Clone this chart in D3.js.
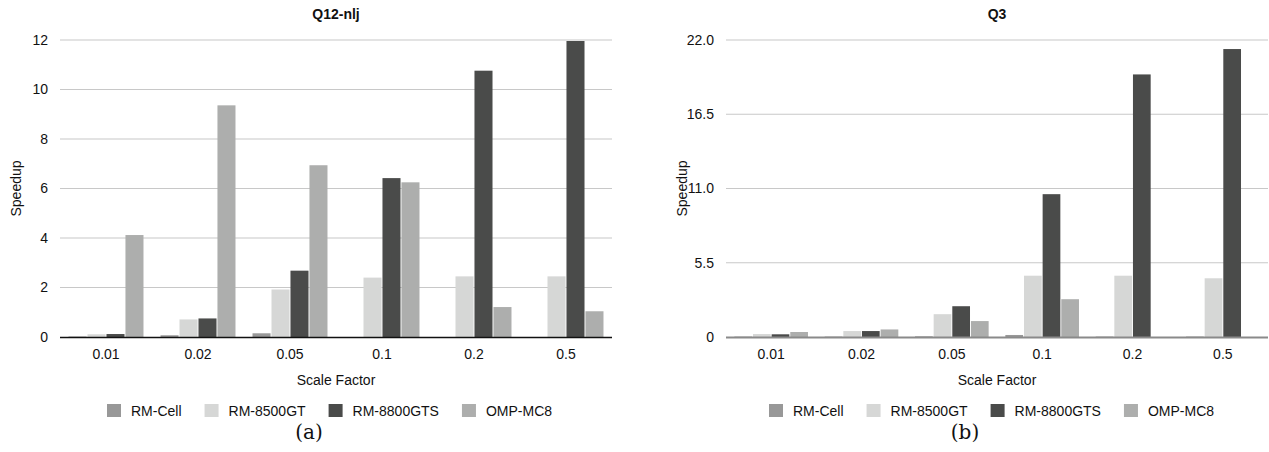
<!DOCTYPE html>
<html>
<head>
<meta charset="utf-8">
<script src="https://cdn.jsdelivr.net/npm/d3@7"></script>
<style>
  html, body { margin: 0; padding: 0; background: #fff; }
  svg text { font-family: "Liberation Sans", Arial, Helvetica, sans-serif; fill: #111; }
</style>
</head>
<body>
<svg id="chart" width="1269" height="452"></svg>
<script>
// Scale factors on the x axis (shared by both panels)
const scaleFactors = ["0.01", "0.02", "0.05", "0.1", "0.2", "0.5"];
const seriesNames = ["RM-Cell", "RM-8500GT", "RM-8800GTS", "OMP-MC8"];
const seriesColors = ["#989898", "#d6d7d6", "#4a4b4a", "#adaead"];

// Q12-nlj speedups per series
const q12Cell   = [0.02, 0.07, 0.15, 0, 0, 0];
const q12G8500  = [0.11, 0.71, 1.92, 2.40, 2.45, 2.45];
const q12G8800  = [0.12, 0.75, 2.68, 6.42, 10.76, 11.96];
const q12Omp    = [4.12, 9.36, 6.94, 6.25, 1.21, 1.04];
const q12Ticks  = [0, 2, 4, 6, 8, 10, 12];
const q12TickLabels = ["0", "2", "4", "6", "8", "10", "12"];

// Q3 speedups per series
const q3Cell    = [0.03, 0.03, 0.05, 0.15, 0.03, 0.03];
const q3G8500   = [0.22, 0.44, 1.69, 4.54, 4.54, 4.35];
const q3G8800   = [0.20, 0.44, 2.28, 10.58, 19.45, 21.33];
const q3Omp     = [0.37, 0.56, 1.18, 2.80, 0, 0];
const q3Ticks   = [0, 5.5, 11, 16.5, 22];
const q3TickLabels = ["0", "5.5", "11.0", "16.5", "22.0"];

const svg = d3.select("#chart");

function drawPanel(opts) {
  const { title, caption, series, ticks, tickLabels, x0, x1, legendX, captionX, baseStroke, baseWidth } = opts;
  const yTop = 40, yBottom = 337;
  const g = svg.append("g");

  const x = d3.scaleBand().domain(scaleFactors).range([x0, x1])
    .paddingInner(0.185).paddingOuter(0.0925);
  const xs = d3.scaleBand().domain(seriesNames).range([0, x.bandwidth()]).paddingInner(0.05);
  const y = d3.scaleLinear().domain([0, ticks[ticks.length - 1]]).range([yBottom, yTop]);

  // horizontal gridlines
  g.append("g").selectAll("line").data(ticks.slice(1)).join("line")
    .attr("x1", x0).attr("x2", x1)
    .attr("y1", d => y(d)).attr("y2", d => y(d))
    .attr("stroke", "#c8c8c8").attr("stroke-width", 1.2);

  // y axis tick labels
  const yAxis = d3.axisLeft(y).tickValues(ticks)
    .tickFormat((d, i) => tickLabels[i]).tickSize(0).tickPadding(12);
  const ya = g.append("g").attr("transform", `translate(${x0},0)`).call(yAxis);
  ya.select(".domain").remove();
  ya.selectAll("text").attr("font-size", 14).attr("font-family", null).attr("fill", "#111");

  // bars
  const rows = scaleFactors.map((f, i) => ({ f, vals: series.map(s => s[i]) }));
  g.append("g").selectAll("g").data(rows).join("g")
    .attr("transform", d => `translate(${x(d.f)},0)`)
    .selectAll("rect").data(d => d.vals.map((v, k) => ({ name: seriesNames[k], v, k })))
    .join("rect")
    .attr("x", d => xs(d.name))
    .attr("width", xs.bandwidth())
    .attr("y", d => y(d.v))
    .attr("height", d => yBottom - y(d.v))
    .attr("fill", d => seriesColors[d.k]);

  // x axis
  const xAxis = d3.axisBottom(x).tickSize(0).tickPadding(12);
  const xa = g.append("g").attr("transform", `translate(0,${yBottom})`).call(xAxis);
  xa.select(".domain").remove();
  xa.selectAll("text").attr("font-size", 14).attr("font-family", null).attr("fill", "#111");
  g.append("line").attr("x1", x0).attr("x2", x1).attr("y1", yBottom + 0.5).attr("y2", yBottom + 0.5)
    .attr("stroke", baseStroke).attr("stroke-width", baseWidth);

  // title
  g.append("text").attr("x", (x0 + x1) / 2).attr("y", 19).attr("text-anchor", "middle")
    .attr("font-size", 14).attr("font-weight", "bold").text(title);

  // axis titles
  g.append("text").attr("x", (x0 + x1) / 2).attr("y", 385).attr("text-anchor", "middle")
    .attr("font-size", 14).text("Scale Factor");
  g.append("text").attr("transform", `translate(${x0 - 39},${(yTop + yBottom) / 2}) rotate(-90)`)
    .attr("text-anchor", "middle").attr("font-size", 14).text("Speedup");

  // legend
  const leg = g.append("g").attr("transform", `translate(${legendX},0)`);
  let cx = 0;
  seriesNames.forEach((name, k) => {
    leg.append("rect").attr("x", cx).attr("y", 404).attr("width", 14).attr("height", 13)
      .attr("fill", seriesColors[k]);
    const t = leg.append("text").attr("x", cx + 24).attr("y", 415.5).attr("font-size", 14).text(name);
    cx += 24 + t.node().getComputedTextLength() + 23;
  });

  // sub-figure caption
  g.append("text").attr("x", captionX).attr("y", 439).attr("text-anchor", "middle")
    .style("font-family", "'DejaVu Serif', 'Liberation Serif', serif")
    .attr("font-size", 20).text(caption);
}

drawPanel({
  title: "Q12-nlj", caption: "(a)",
  series: [q12Cell, q12G8500, q12G8800, q12Omp],
  ticks: q12Ticks, tickLabels: q12TickLabels,
  x0: 60, x1: 612, legendX: 107, captionX: 309,
  baseStroke: "#111", baseWidth: 1.3
});

drawPanel({
  title: "Q3", caption: "(b)",
  series: [q3Cell, q3G8500, q3G8800, q3Omp],
  ticks: q3Ticks, tickLabels: q3TickLabels,
  x0: 726, x1: 1268, legendX: 769, captionX: 965,
  baseStroke: "#8a8a8a", baseWidth: 2.2
});
</script>
</body>
</html>
